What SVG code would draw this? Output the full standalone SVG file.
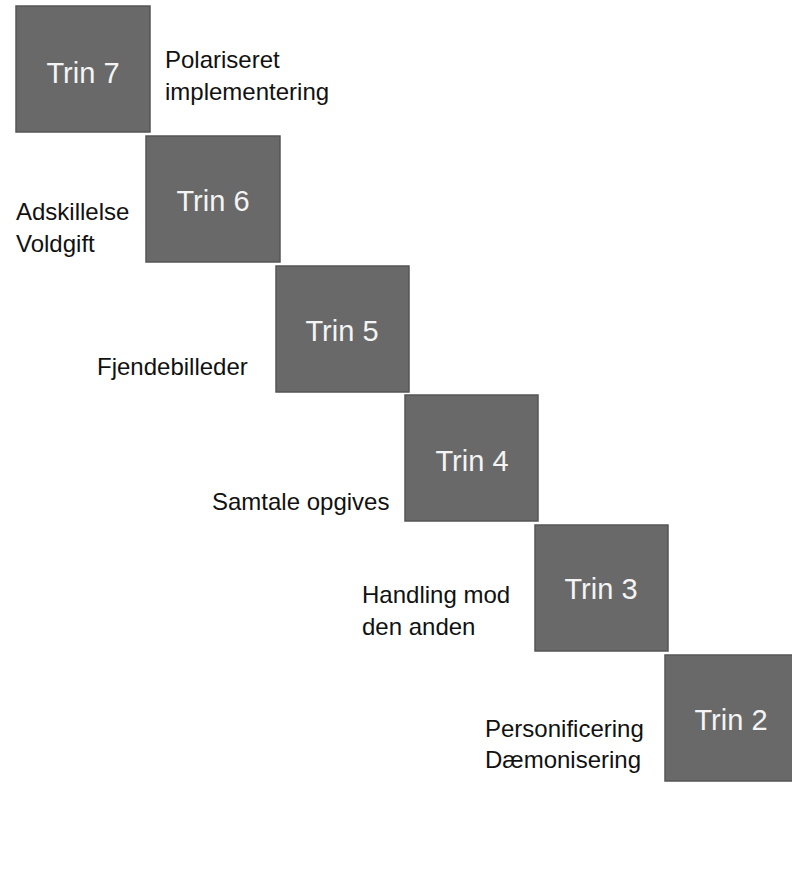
<svg xmlns="http://www.w3.org/2000/svg" width="792" height="889" viewBox="0 0 792 889">
<style>
.box{fill:#696969;stroke:#555555;stroke-width:1.5}
.bt{font-family:"Liberation Sans",Arial,sans-serif;font-size:29px;fill:#f4f4f4;text-anchor:middle}
.lb{font-family:"Liberation Sans",Arial,sans-serif;font-size:24px;fill:#111111}
</style>
<rect width="792" height="889" fill="#ffffff"/>
<g id="connectors"></g>
<g id="trin7">
<rect class="box" x="16" y="6" width="134" height="126"/>
<text class="bt" x="83" y="83">Trin 7</text>
</g>
<g id="label7">
<text class="lb" x="165" y="68">Polariseret</text>
<text class="lb" x="165" y="100">implementering</text>
</g>
<g id="trin6">
<rect class="box" x="146" y="136" width="134" height="126"/>
<text class="bt" x="213" y="211">Trin 6</text>
</g>
<g id="label6">
<text class="lb" x="16" y="220">Adskillelse</text>
<text class="lb" x="16" y="252">Voldgift</text>
</g>
<g id="trin5">
<rect class="box" x="276" y="266" width="133" height="126"/>
<text class="bt" x="342" y="341">Trin 5</text>
</g>
<g id="label5">
<text class="lb" x="97" y="375">Fjendebilleder</text>
</g>
<g id="trin4">
<rect class="box" x="405" y="395" width="133" height="126"/>
<text class="bt" x="472" y="471">Trin 4</text>
</g>
<g id="label4">
<text class="lb" x="212" y="510">Samtale opgives</text>
</g>
<g id="trin3">
<rect class="box" x="535" y="525" width="133" height="126"/>
<text class="bt" x="601" y="599">Trin 3</text>
</g>
<g id="label3">
<text class="lb" x="362" y="603">Handling mod</text>
<text class="lb" x="362" y="635">den anden</text>
</g>
<g id="trin2">
<rect class="box" x="665" y="655" width="133" height="126"/>
<text class="bt" x="731" y="730">Trin 2</text>
</g>
<g id="label2">
<text class="lb" x="485" y="737">Personificering</text>
<text class="lb" x="485" y="768">Dæmonisering</text>
</g>
</svg>
